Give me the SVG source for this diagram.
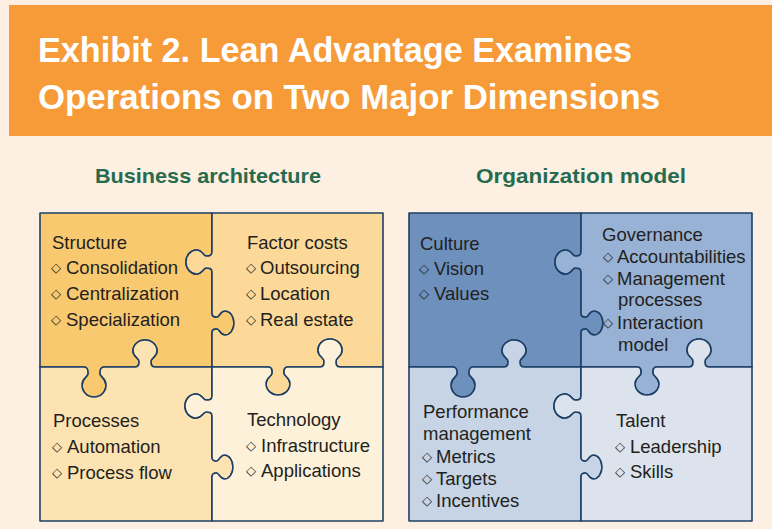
<svg xmlns="http://www.w3.org/2000/svg" xmlns:xlink="http://www.w3.org/1999/xlink" width="772" height="529" viewBox="0 0 772 529">
<style>
.t{font-family:"Liberation Sans",Arial,sans-serif;font-size:18.5px;fill:#231f20}
.b{font-family:"DejaVu Sans",sans-serif;font-size:13px;fill:#231f20}
.title{font-family:"Liberation Sans",Arial,sans-serif;font-weight:bold;font-size:35px;fill:#ffffff}
.sub{font-family:"Liberation Sans",Arial,sans-serif;font-weight:bold;font-size:21px;fill:#276b4f}
.piece{stroke:#1d3f66;stroke-width:1.6;stroke-linejoin:round}
</style>
<defs>
<path id="pTL" d="M40,213 H212 V252 C212,256 209,256 206,256 C203.5,256 202.5,250 196.5,250 C191,250 186,255 186,262 C186,269 191,274 196.5,274 C202.5,274 203.5,268 206,268 C209,268 212,268 212,272 V313 C212,317 214.5,317 217,317 C219.5,317 220,311 225,311 C230,311 234,316 234,323 C234,330 230,335 225,335 C220,335 219.5,329 217,329 C214.5,329 212,329 212,333 V367 H155 C151,367 151,364 151,361 C151,358 157,357 157,351 C157,345 152,340 145,340 C138,340 133,345 133,351 C133,357 139,358 139,361 C139,364 139,367 135,367 H104 C100,367 100,370.5 100,373.5 C100,377 106,378 106,385 C106,391.5 101,397 94,397 C87,397 82,391.5 82,385 C82,378 88,377 88,373.5 C88,370.5 88,367 84,367 H40 Z"/>
<path id="pTR" d="M212,213 H383 V367 H340 C336,367 336,364 336,361 C336,357.5 342,356.5 342,350.5 C342,344 337,339 330,339 C323,339 318,344 318,350.5 C318,356.5 324,357.5 324,361 C324,364 324,367 320,367 H288 C284,367 284,370 284,373 C284,376.5 290,377.5 290,383.5 C290,390 285,395 278,395 C271,395 266,390 266,383.5 C266,377.5 272,376.5 272,373 C272,370 272,367 268,367 H212 V333 C212,329 214.5,329 217,329 C219.5,329 220,335 225,335 C230,335 234,330 234,323 C234,316 230,311 225,311 C220,311 219.5,317 217,317 C214.5,317 212,317 212,313 V272 C212,268 209,268 206,268 C203.5,268 202.5,274 196.5,274 C191,274 186,269 186,262 C186,255 191,250 196.5,250 C202.5,250 203.5,256 206,256 C209,256 212,256 212,252 V213 Z"/>
<path id="pBL" d="M40,367 H84 C88,367 88,370.5 88,373.5 C88,377 82,378 82,385 C82,391.5 87,397 94,397 C101,397 106,391.5 106,385 C106,378 100,377 100,373.5 C100,370.5 100,367 104,367 H135 C139,367 139,364 139,361 C139,358 133,357 133,351 C133,345 138,340 145,340 C152,340 157,345 157,351 C157,357 151,358 151,361 C151,364 151,367 155,367 H212 V396 C212,400 209,400 206,400 C203,400 202,394 196,394 C190,394 185,399 185,406 C185,413 190,418 196,418 C202,418 203,412 206,412 C209,412 212,412 212,416 V457 C212,461 214.5,461 216.5,461 C219,461 220,455 224.5,455 C229,455 233,460 233,467 C233,474 229,479 224.5,479 C220,479 219,473 216.5,473 C214.5,473 212,473 212,477 V521 H40 Z"/>
<path id="pBR" d="M212,367 H268 C272,367 272,370 272,373 C272,376.5 266,377.5 266,383.5 C266,390 271,395 278,395 C285,395 290,390 290,383.5 C290,377.5 284,376.5 284,373 C284,370 284,367 288,367 H320 C324,367 324,364 324,361 C324,357.5 318,356.5 318,350.5 C318,344 323,339 330,339 C337,339 342,344 342,350.5 C342,356.5 336,357.5 336,361 C336,364 336,367 340,367 H383 V521 H212 V477 C212,473 214.5,473 216.5,473 C219,473 220,479 224.5,479 C229,479 233,474 233,467 C233,460 229,455 224.5,455 C220,455 219,461 216.5,461 C214.5,461 212,461 212,457 V416 C212,412 209,412 206,412 C203,412 202,418 196,418 C190,418 185,413 185,406 C185,399 190,394 196,394 C202,394 203,400 206,400 C209,400 212,400 212,396 V367 Z"/>
</defs>

<rect x="0" y="0" width="772" height="529" fill="#fdf0e3"/>
<g id="header">
<rect x="9" y="5" width="763" height="131" fill="#f79b38"/>
<text class="title" x="38" y="62" textLength="594" lengthAdjust="spacingAndGlyphs">Exhibit 2. Lean Advantage Examines</text>
<text class="title" x="38" y="109" textLength="622" lengthAdjust="spacingAndGlyphs">Operations on Two Major Dimensions</text>
</g>
<text class="sub" x="95" y="183" textLength="226" lengthAdjust="spacingAndGlyphs">Business architecture</text>
<text class="sub" x="476" y="183" textLength="210" lengthAdjust="spacingAndGlyphs">Organization model</text>

<g id="business-architecture">
<g id="structure">
<use xlink:href="#pTL" class="piece" fill="#f9c970"/>
<text class="t" x="52" y="249">Structure</text>
<text class="b" x="51" y="272">◇</text><text class="t" x="66" y="274">Consolidation</text>
<text class="b" x="51" y="298">◇</text><text class="t" x="66" y="300">Centralization</text>
<text class="b" x="51" y="324">◇</text><text class="t" x="66" y="326">Specialization</text>
</g>
<g id="factor-costs">
<use xlink:href="#pTR" class="piece" fill="#fcd998"/>
<text class="t" x="247" y="249">Factor costs</text>
<text class="b" x="246" y="272">◇</text><text class="t" x="260" y="274">Outsourcing</text>
<text class="b" x="246" y="298">◇</text><text class="t" x="260" y="300">Location</text>
<text class="b" x="246" y="324">◇</text><text class="t" x="260" y="326">Real estate</text>
</g>
<g id="processes">
<use xlink:href="#pBL" class="piece" fill="#fde3b2"/>
<text class="t" x="53" y="427">Processes</text>
<text class="b" x="52" y="451">◇</text><text class="t" x="67" y="453">Automation</text>
<text class="b" x="52" y="477">◇</text><text class="t" x="67" y="479">Process flow</text>
</g>
<g id="technology">
<use xlink:href="#pBR" class="piece" fill="#fef1d9"/>
<text class="t" x="247" y="426">Technology</text>
<text class="b" x="246" y="450">◇</text><text class="t" x="261" y="452">Infrastructure</text>
<text class="b" x="246" y="475">◇</text><text class="t" x="261" y="477">Applications</text>
</g>
</g>

<g id="organization-model">
<g id="culture">
<use xlink:href="#pTL" class="piece" fill="#6d90bd" transform="translate(369,0)"/>
<text class="t" x="420" y="250">Culture</text>
<text class="b" x="419" y="273">◇</text><text class="t" x="434" y="275">Vision</text>
<text class="b" x="419" y="298">◇</text><text class="t" x="434" y="300">Values</text>
</g>
<g id="governance">
<use xlink:href="#pTR" class="piece" fill="#97b2d5" transform="translate(369,0)"/>
<text class="t" x="602" y="241">Governance</text>
<text class="b" x="603" y="261">◇</text><text class="t" x="617" y="263">Accountabilities</text>
<text class="b" x="603" y="283">◇</text><text class="t" x="617" y="285">Management</text>
<text class="t" x="618" y="306">processes</text>
<text class="b" x="603" y="327">◇</text><text class="t" x="617" y="329">Interaction</text>
<text class="t" x="618" y="351">model</text>
</g>
<g id="performance-management">
<use xlink:href="#pBL" class="piece" fill="#c6d4e6" transform="translate(369,0)"/>
<text class="t" x="423" y="418">Performance</text>
<text class="t" x="423" y="440">management</text>
<text class="b" x="422" y="461">◇</text><text class="t" x="436" y="463">Metrics</text>
<text class="b" x="422" y="483">◇</text><text class="t" x="436" y="485">Targets</text>
<text class="b" x="422" y="505">◇</text><text class="t" x="436" y="507">Incentives</text>
</g>
<g id="talent">
<use xlink:href="#pBR" class="piece" fill="#dce3ec" transform="translate(369,0)"/>
<text class="t" x="616" y="427">Talent</text>
<text class="b" x="615" y="451">◇</text><text class="t" x="630" y="453">Leadership</text>
<text class="b" x="615" y="476">◇</text><text class="t" x="630" y="478">Skills</text>
</g>
</g>
</svg>
